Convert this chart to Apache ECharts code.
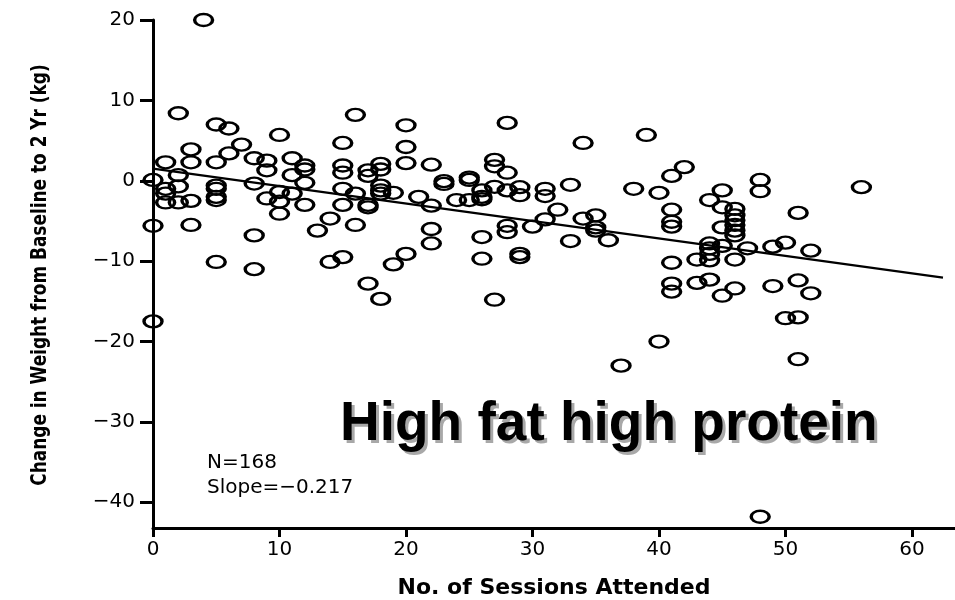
<!DOCTYPE html>
<html><head><meta charset="utf-8">
<script src="https://cdn.jsdelivr.net/npm/echarts@6/dist/echarts.min.js"></script>
<style>html,body{margin:0;padding:0;background:#fff;overflow:hidden}#c{width:955px;height:600px}</style>
</head><body><div id="c"></div>
<script>
// Number of sessions attended (x) for each participant
const sessions = [
  0,0,0, 1,1,1,1, 2,2,2,2, 3,3,3,3, 4,
  5,5,5,5,5,5,5, 6,6, 7, 8,8,8,8, 9,9,9, 10,10,10,10, 11,11,11, 12,12,12,12,
  13, 14,14, 15,15,15,15,15,15, 16,16,16, 17,17,17,17,17, 18,18,18,18,18,18, 19,19,
  20,20,20,20, 21, 22,22,22,22, 23,23, 24, 25,25,25, 26,26,26,26,26, 27,27,27,27,
  28,28,28,28,28, 29,29,29,29, 30, 31,31,31, 32, 33,33, 34,34, 35,35,35, 36, 37, 38, 39,
  40,40, 41,41,41,41,41,41,41, 42, 43,43, 44,44,44,44,44,44, 45,45,45,45,45,
  46,46,46,46,46,46,46,46, 47, 48,48,48, 49,49, 50,50, 51,51,51,51, 52,52, 56
];
// Change in weight from baseline to 2 yr (kg), same order as sessions
const weightChange = [
  0.1,-5.6,-17.5, 2.3,-1.0,-1.6,-2.7, 8.4,0.7,-0.7,-2.7, 3.9,2.3,-2.5,-5.5, 20.0,
  7.0,2.3,-0.6,-1.0,-2.0,-2.4,-10.1, 6.5,3.4, 4.5, 2.8,-0.35,-6.8,-11.0, 2.5,1.3,-2.2, 5.7,-1.4,-2.6,-4.1, 2.8,0.7,-1.6, 1.9,1.4,-0.25,-3.0,
  -6.2, -4.7,-10.1, 4.7,1.9,1.0,-1.0,-3.0,-9.5, 8.2,-1.6,-5.5, 1.3,0.6,-3.0,-3.3,-12.8, 2.1,1.4,-0.6,-1.2,-1.6,-14.7, -1.5,-10.4,
  6.9,4.2,2.2,-9.1, -2.0, 2.0,-3.1,-6.0,-7.8, -0.05,-0.4, -2.4, 0.4,0.1,-2.4, -1.2,-2.0,-2.3,-7.0,-9.7, 2.6,1.8,-0.75,-14.8,
  7.2,1.0,-1.2,-5.6,-6.4, -0.8,-1.8,-9.1,-9.5, -5.7, -1.0,-1.9,-4.8, -3.6, -0.5,-7.5, 4.7,-4.7, -4.3,-5.8,-6.2, -7.4, -23.0, -1.0, 5.7,
  -1.5,-20.0, 0.6,-3.6,-5.1,-5.7,-10.2,-12.8,-13.8, 1.7, -9.8,-12.7, -2.4,-7.8,-8.4,-9.1,-9.9,-12.3, -1.2,-3.3,-5.8,-8.1,-14.3,
  -3.5,-4.3,-4.9,-5.5,-6.2,-6.8,-9.8,-13.4, -8.4, 0.1,-1.3,-41.8, -8.2,-13.1, -7.7,-17.1, -4.0,-12.4,-17.0,-22.2, -8.7,-14.0, -0.8
];
const xTicks = [0, 10, 20, 30, 40, 50, 60];
const yTicks = [-40, -30, -20, -10, 0, 10, 20];
const fitSlope = -0.217;
const fitIntercept = 1.5;
const fitXRange = [0, 62.45];
const nText = 'N=168';
const slopeText = 'Slope=\u22120.217';
const titleText = 'High fat high protein';
const yTitle = 'Change in Weight from Baseline to 2 Yr (kg)';
const xTitle = 'No. of Sessions Attended';

const points = sessions.map((x, i) => [x, weightChange[i]]);
const fitLine = fitXRange.map(x => [x, fitIntercept + fitSlope * x]);
const minus = v => String(v).replace('-', '\u2212');

const chart = echarts.init(document.getElementById('c'), null, {renderer: 'canvas', width: 955, height: 600});
const tickFont = {fontFamily: 'DejaVu Sans', fontSize: 20, color: '#000'};
chart.setOption({
  animation: false,
  backgroundColor: '#fff',
  grid: {left: 153, right: 0, top: 20, bottom: 72, containLabel: false, outerBoundsMode: 'none'},
  xAxis: {
    type: 'value', min: 0, max: 63.4,
    axisLine: {show: true, onZero: false, lineStyle: {color: '#000', width: 3}},
    axisTick: {show: true, length: 9, lineStyle: {color: '#000', width: 3}, customValues: xTicks},
    axisLabel: Object.assign({margin: 12, customValues: xTicks, formatter: minus}, tickFont),
    splitLine: {show: false},
    name: xTitle, nameLocation: 'middle', nameGap: 49,
    nameTextStyle: {fontFamily: 'DejaVu Sans', fontWeight: 'bold', fontSize: 22, color: '#000'}
  },
  yAxis: {
    type: 'value', min: -43.2, max: 20,
    axisLine: {show: true, onZero: false, lineStyle: {color: '#000', width: 3}},
    axisTick: {show: true, length: 13, lineStyle: {color: '#000', width: 3}, customValues: yTicks},
    axisLabel: Object.assign({margin: 18, customValues: yTicks, formatter: minus}, tickFont),
    splitLine: {show: false}
  },
  series: [
    {
      type: 'scatter', data: points, symbol: 'circle', symbolSize: [18, 12],
      itemStyle: {color: 'rgba(0,0,0,0)', borderColor: '#000', borderWidth: 2.8, opacity: 1},
      z: 3
    },
    {
      type: 'line', data: fitLine, showSymbol: false, symbol: 'none',
      lineStyle: {color: '#000', width: 2.2}, z: 2
    }
  ],
  graphic: [
    {type: 'text', x: 40, y: 275, rotation: Math.PI / 2, scaleX: 0.77,
     style: {x: 0, y: 0, text: yTitle, align: 'center', verticalAlign: 'middle', fontFamily: 'DejaVu Sans', fontWeight: 'bold', fontSize: 22, fill: '#000'}},
    {type: 'text', style: {x: 207, y: 463, text: nText, verticalAlign: 'middle', fontFamily: 'DejaVu Sans', fontSize: 20, fill: '#000'}},
    {type: 'text', style: {x: 207, y: 488, text: slopeText, verticalAlign: 'middle', fontFamily: 'DejaVu Sans', fontSize: 20, fill: '#000'}},
    {type: 'text', style: {x: 343, y: 428, text: titleText, verticalAlign: 'middle', fontFamily: 'Liberation Sans', fontWeight: 'bold', fontSize: 55, fill: '#a8a8a8'}},
    {type: 'text', style: {x: 340, y: 425, text: titleText, verticalAlign: 'middle', fontFamily: 'Liberation Sans', fontWeight: 'bold', fontSize: 55, fill: '#000'}}
  ]
});
</script></body></html>
